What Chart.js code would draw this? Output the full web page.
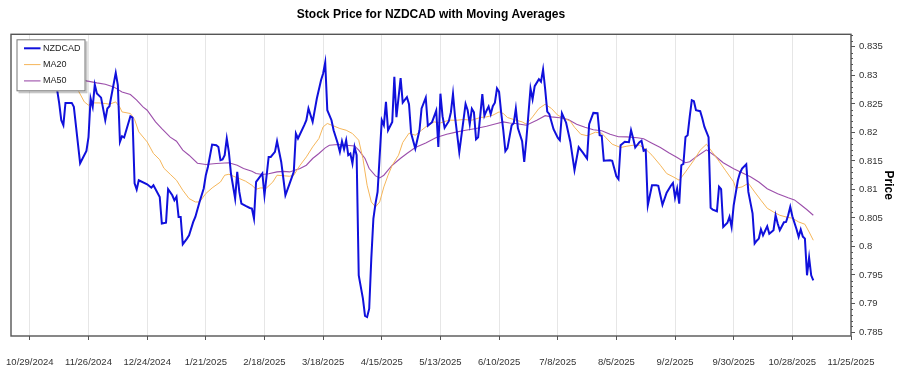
<!DOCTYPE html>
<html><head><meta charset="utf-8">
<script src="https://cdn.jsdelivr.net/npm/chart.js@4.4.1/dist/chart.umd.min.js"></script>
<style>html,body{margin:0;padding:0;background:#fff}</style>
</head><body>
<canvas id="c" width="900" height="375"></canvas>
<script>
const priceDates = [
"2024-11-07","2024-11-08","2024-11-11","2024-11-12","2024-11-13","2024-11-14","2024-11-15","2024-11-18","2024-11-19","2024-11-22",
"2024-11-25","2024-11-26","2024-11-27","2024-11-28","2024-11-29","2024-11-30","2024-12-02","2024-12-04","2024-12-05","2024-12-06",
"2024-12-09","2024-12-10","2024-12-11","2024-12-12","2024-12-13","2024-12-16","2024-12-17","2024-12-18","2024-12-19","2024-12-20",
"2024-12-24","2024-12-26","2024-12-27","2024-12-30","2024-12-31","2025-01-02","2025-01-03","2025-01-05","2025-01-06","2025-01-07",
"2025-01-08","2025-01-09","2025-01-10","2025-01-12","2025-01-13","2025-01-15","2025-01-16","2025-01-18","2025-01-20","2025-01-21",
"2025-01-22","2025-01-24","2025-01-26","2025-01-27","2025-01-28","2025-01-29","2025-01-30","2025-01-31","2025-02-01","2025-02-02",
"2025-02-04","2025-02-05","2025-02-06","2025-02-07","2025-02-09","2025-02-11","2025-02-12","2025-02-13","2025-02-14","2025-02-15",
"2025-02-17","2025-02-18","2025-02-20","2025-02-21","2025-02-23","2025-02-24","2025-02-26","2025-02-27","2025-02-28","2025-03-02",
"2025-03-04","2025-03-05","2025-03-06","2025-03-09","2025-03-10","2025-03-11","2025-03-13","2025-03-15","2025-03-17","2025-03-18",
"2025-03-19","2025-03-20","2025-03-22","2025-03-23","2025-03-25","2025-03-26","2025-03-27","2025-03-28","2025-03-29","2025-03-30",
"2025-03-31","2025-04-01","2025-04-02","2025-04-03","2025-04-04","2025-04-06","2025-04-07","2025-04-08","2025-04-09","2025-04-10",
"2025-04-11","2025-04-12","2025-04-13","2025-04-15","2025-04-16","2025-04-17","2025-04-18","2025-04-20","2025-04-21","2025-04-22",
"2025-04-24","2025-04-25","2025-04-27","2025-04-28","2025-04-29","2025-05-01","2025-05-03","2025-05-04","2025-05-06","2025-05-07",
"2025-05-09","2025-05-11","2025-05-12","2025-05-13","2025-05-14","2025-05-15","2025-05-17","2025-05-18","2025-05-19","2025-05-20",
"2025-05-22","2025-05-24","2025-05-25","2025-05-26","2025-05-27","2025-05-28","2025-05-29","2025-05-30","2025-05-31","2025-06-02",
"2025-06-03","2025-06-04","2025-06-05","2025-06-06","2025-06-07","2025-06-08","2025-06-09","2025-06-10","2025-06-11","2025-06-12",
"2025-06-13","2025-06-14","2025-06-16","2025-06-17","2025-06-18","2025-06-19","2025-06-21","2025-06-22","2025-06-23","2025-06-25",
"2025-06-26","2025-06-27","2025-06-29","2025-06-30","2025-07-01","2025-07-02","2025-07-03","2025-07-04","2025-07-06","2025-07-08",
"2025-07-09","2025-07-10","2025-07-12","2025-07-14","2025-07-16","2025-07-18","2025-07-20","2025-07-22","2025-07-23","2025-07-25",
"2025-07-27","2025-07-28","2025-07-29","2025-07-30","2025-08-02","2025-08-03","2025-08-05","2025-08-06","2025-08-07","2025-08-09",
"2025-08-11","2025-08-12","2025-08-13","2025-08-14","2025-08-16","2025-08-17","2025-08-18","2025-08-19","2025-08-20","2025-08-22",
"2025-08-24","2025-08-25","2025-08-27","2025-08-29","2025-08-31","2025-09-01","2025-09-02","2025-09-03","2025-09-04","2025-09-05",
"2025-09-06","2025-09-07","2025-09-08","2025-09-09","2025-09-10","2025-09-11","2025-09-12","2025-09-14","2025-09-15","2025-09-16",
"2025-09-18","2025-09-19","2025-09-20","2025-09-22","2025-09-23","2025-09-24","2025-09-25","2025-09-27","2025-09-28","2025-09-29",
"2025-09-30","2025-10-02","2025-10-03","2025-10-04","2025-10-06","2025-10-07","2025-10-09","2025-10-10","2025-10-11","2025-10-12",
"2025-10-13","2025-10-14","2025-10-16","2025-10-17","2025-10-19","2025-10-20","2025-10-21","2025-10-22","2025-10-24","2025-10-25",
"2025-10-26","2025-10-27","2025-10-28","2025-10-30","2025-10-31","2025-11-01","2025-11-02","2025-11-03","2025-11-04","2025-11-05",
"2025-11-06","2025-11-07"
];
const priceValues = [
0.8285,0.8295,0.8275,0.82512,0.82214,0.82126,0.82517,0.82517,0.82447,0.81459,
0.81675,0.81916,0.82594,0.82447,0.82837,0.82682,0.82609,0.82214,0.82419,0.82459,
0.83044,0.82828,0.81833,0.81933,0.81910,0.82284,0.82261,0.81108,0.80998,0.81161,
0.81091,0.81030,0.81072,0.80868,0.80401,0.80416,0.81003,0.80898,0.80810,0.80872,
0.80517,0.80517,0.80038,0.80138,0.80196,0.80430,0.80517,0.80780,0.81016,0.81249,
0.81394,0.81787,0.81775,0.81745,0.81512,0.81524,0.81600,0.81893,0.81658,0.81279,
0.80840,0.81307,0.80956,0.80752,0.80710,0.80675,0.80665,0.80489,0.81131,0.81179,
0.81279,0.80898,0.81570,0.81570,0.81658,0.81845,0.81482,0.81196,0.80898,0.81103,
0.81307,0.81980,0.81893,0.82126,0.82214,0.82419,0.82184,0.82594,0.82916,0.83033,
0.83226,0.82389,0.82214,0.82038,0.81805,0.81658,0.81845,0.81705,0.81863,0.81600,
0.81630,0.81454,0.81745,0.81600,0.79494,0.79086,0.78784,0.78763,0.78910,0.79787,
0.80489,0.80752,0.80956,0.82214,0.82126,0.82535,0.82038,0.82184,0.82973,0.82266,
0.82951,0.82521,0.82617,0.82494,0.81986,0.81717,0.82038,0.82419,0.82609,0.82117,
0.82179,0.82380,0.81745,0.82679,0.82284,0.82082,0.82196,0.82354,0.82675,0.82266,
0.81652,0.82214,0.82500,0.82389,0.82144,0.82416,0.82354,0.81880,0.81916,0.82670,
0.82293,0.82380,0.82454,0.82319,0.82459,0.82521,0.82770,0.82710,0.82345,0.82038,
0.81670,0.81723,0.82126,0.82161,0.82419,0.82073,0.81845,0.81482,0.81863,0.82770,
0.82582,0.82810,0.82933,0.82889,0.83103,0.82758,0.82363,0.82319,0.82056,0.81907,
0.81863,0.82337,0.82170,0.81837,0.81337,0.81740,0.81644,0.81542,0.82144,0.82342,
0.82337,0.81951,0.81942,0.81503,0.81512,0.81503,0.81231,0.81179,0.81775,0.81837,
0.81828,0.82038,0.81898,0.81735,0.81828,0.81854,0.81679,0.81696,0.80723,0.81073,
0.81073,0.81065,0.80731,0.80942,0.81065,0.81114,0.80854,0.81016,0.80752,0.81424,
0.81447,0.81921,0.81951,0.82272,0.82565,0.82547,0.82389,0.82372,0.82249,0.82100,
0.81916,0.80679,0.80644,0.80617,0.81047,0.81003,0.80342,0.80416,0.80521,0.80342,
0.80723,0.81161,0.81289,0.81366,0.81442,0.80956,0.80582,0.80051,0.80100,0.80138,
0.80301,0.80196,0.80354,0.80222,0.80284,0.80547,0.80401,0.80284,0.80424,0.80430,
0.80547,0.80693,0.80530,0.80301,0.80170,0.80296,0.80173,0.80138,0.79494,0.79805,
0.79494,0.79407
];
const ma20Dates = [
"2024-11-07","2024-11-14","2024-11-21","2024-11-24","2024-11-26","2024-11-28","2024-12-01","2024-12-04","2024-12-06","2024-12-09",
"2024-12-11","2024-12-12","2024-12-16","2024-12-18","2024-12-20","2024-12-24","2024-12-27","2024-12-30","2025-01-01","2025-01-04",
"2025-01-07","2025-01-10","2025-01-13","2025-01-16","2025-01-18","2025-01-21","2025-01-24","2025-01-28","2025-01-30","2025-02-01",
"2025-02-04","2025-02-06","2025-02-09","2025-02-12","2025-02-14","2025-02-16","2025-02-19","2025-02-22","2025-02-24","2025-02-27",
"2025-03-02","2025-03-04","2025-03-07","2025-03-10","2025-03-13","2025-03-16","2025-03-18","2025-03-20","2025-03-23","2025-03-26",
"2025-03-29","2025-04-01","2025-04-04","2025-04-06","2025-04-08","2025-04-10","2025-04-12","2025-04-14","2025-04-16","2025-04-18",
"2025-04-20","2025-04-23","2025-04-25","2025-04-28","2025-05-01","2025-05-04","2025-05-07","2025-05-10","2025-05-13","2025-05-17",
"2025-05-21","2025-05-24","2025-05-28","2025-06-01","2025-06-04","2025-06-07","2025-06-10","2025-06-12","2025-06-14","2025-06-17",
"2025-06-21","2025-06-23","2025-06-26","2025-06-29","2025-07-02","2025-07-05","2025-07-08","2025-07-11","2025-07-14","2025-07-16",
"2025-07-19","2025-07-22","2025-07-26","2025-07-29","2025-07-31","2025-08-03","2025-08-07","2025-08-10","2025-08-13","2025-08-16",
"2025-08-19","2025-08-22","2025-08-26","2025-08-29","2025-09-01","2025-09-04","2025-09-07","2025-09-11","2025-09-14","2025-09-17",
"2025-09-20","2025-09-23","2025-09-26","2025-09-30","2025-10-01","2025-10-04","2025-10-07","2025-10-10","2025-10-13","2025-10-16",
"2025-10-19","2025-10-22","2025-10-25","2025-10-28","2025-10-31","2025-11-03","2025-11-05","2025-11-07"
];
const ma20Values = [
0.8295,0.8290,0.82740,0.82535,0.82477,0.82517,0.82517,0.82507,0.82494,0.82535,
0.82437,0.82359,0.82331,0.82226,0.82009,0.81833,0.81630,0.81521,0.81372,0.81266,
0.81161,0.80986,0.80840,0.80780,0.80780,0.80928,0.81026,0.81131,0.81249,0.81266,
0.81219,0.81191,0.81144,0.81073,0.81003,0.81026,0.81026,0.81131,0.81249,0.81240,
0.81231,0.81249,0.81424,0.81570,0.81745,0.81893,0.82096,0.82156,0.82114,0.82068,
0.82038,0.81980,0.81863,0.81542,0.81073,0.80780,0.80693,0.80780,0.81044,0.81249,
0.81424,0.81600,0.81823,0.81986,0.81951,0.82038,0.82126,0.82184,0.82166,0.82214,
0.82214,0.82226,0.82214,0.82261,0.82272,0.82301,0.82359,0.82331,0.82261,0.82226,
0.82184,0.82144,0.82272,0.82419,0.82494,0.82419,0.82301,0.82249,0.82196,0.82091,
0.81968,0.81942,0.82003,0.81986,0.81907,0.81793,0.81735,0.81758,0.81775,0.81775,
0.81705,0.81600,0.81424,0.81279,0.81223,0.81161,0.81307,0.81512,0.81688,0.81793,
0.81644,0.81494,0.81337,0.81131,0.81021,0.81044,0.81109,0.80956,0.80811,0.80670,
0.80605,0.80547,0.80517,0.80494,0.80430,0.80389,0.80254,0.80109
];
const ma50Dates = [
"2024-11-07","2024-11-14","2024-11-20","2024-11-25","2024-11-30","2024-12-04","2024-12-08","2024-12-12","2024-12-16","2024-12-19",
"2024-12-22","2024-12-24","2024-12-28","2024-12-31","2025-01-04","2025-01-07","2025-01-10","2025-01-13","2025-01-17","2025-01-21",
"2025-01-26","2025-02-01","2025-02-05","2025-02-08","2025-02-12","2025-02-14","2025-02-17","2025-02-20","2025-02-24","2025-02-27",
"2025-03-02","2025-03-07","2025-03-10","2025-03-13","2025-03-16","2025-03-19","2025-03-21","2025-03-25","2025-03-29","2025-04-02",
"2025-04-04","2025-04-07","2025-04-09","2025-04-12","2025-04-14","2025-04-16","2025-04-18","2025-04-20","2025-04-24","2025-04-27",
"2025-05-01","2025-05-06","2025-05-11","2025-05-16","2025-05-21","2025-05-25","2025-05-30","2025-06-04","2025-06-09","2025-06-12",
"2025-06-15","2025-06-18","2025-06-23","2025-06-28","2025-07-02","2025-07-05","2025-07-09","2025-07-13","2025-07-17","2025-07-21",
"2025-07-25","2025-07-29","2025-08-02","2025-08-06","2025-08-10","2025-08-15","2025-08-18","2025-08-22","2025-08-26","2025-08-30",
"2025-09-03","2025-09-07","2025-09-09","2025-09-12","2025-09-17","2025-09-21","2025-09-25","2025-09-30","2025-10-04","2025-10-08",
"2025-10-12","2025-10-16","2025-10-21","2025-10-26","2025-10-29","2025-11-01","2025-11-04","2025-11-07"
];
const ma50Values = [
0.8310,0.8300,0.82959,0.82903,0.82868,0.82845,0.82798,0.82710,0.82665,0.82565,
0.82447,0.82389,0.82184,0.82065,0.81916,0.81845,0.81688,0.81600,0.81459,0.81437,
0.81454,0.81468,0.81424,0.81366,0.81319,0.81279,0.81261,0.81275,0.81307,0.81316,
0.81307,0.81366,0.81424,0.81542,0.81630,0.81728,0.81775,0.81787,0.81775,0.81763,
0.81688,0.81542,0.81366,0.81237,0.81202,0.81249,0.81337,0.81424,0.81547,0.81630,
0.81735,0.81816,0.81910,0.81968,0.82009,0.82038,0.82068,0.82108,0.82156,0.82184,
0.82166,0.82156,0.82126,0.82214,0.82293,0.82272,0.82258,0.82226,0.82144,0.82091,
0.82047,0.82030,0.81968,0.81924,0.81921,0.81907,0.81889,0.81810,0.81735,0.81644,
0.81559,0.81468,0.81486,0.81570,0.81693,0.81591,0.81468,0.81363,0.81293,0.81223,
0.81131,0.81012,0.80924,0.80854,0.80816,0.80731,0.80644,0.80547
];
const xTickDates = ["2024-10-29","2024-11-26","2024-12-24","2025-01-21","2025-02-18","2025-03-18","2025-04-15","2025-05-13",
"2025-06-10","2025-07-08","2025-08-05","2025-09-02","2025-09-30","2025-10-28","2025-11-25"];
const xTickLabels = ["10/29/2024","11/26/2024","12/24/2024","1/21/2025","2/18/2025","3/18/2025","4/15/2025","5/13/2025",
"6/10/2025","7/8/2025","8/5/2025","9/2/2025","9/30/2025","10/28/2025","11/25/2025"];
const yTickValues = [0.785,0.79,0.795,0.8,0.805,0.81,0.815,0.82,0.825,0.83,0.835];
const xRange = ["2024-10-20","2025-11-25"];
const yRange = [0.7843, 0.8372];
const seriesLabels = ["NZDCAD","MA20","MA50"];

const FONT = "'Liberation Sans', Arial, sans-serif";
function dayNum(s){const p=s.split('-').map(Number);return Date.UTC(p[0],p[1]-1,p[2])/86400000;}
function pts(dates, vals){return dates.map((d,i)=>({x:dayNum(d),y:vals[i]}));}
const xTickDays = xTickDates.map(dayNum);

const framePlugin = {
  id:'frame',
  afterDatasetsDraw(chart){
    const a=chart.chartArea, ctx=chart.ctx;
    ctx.save();
    ctx.strokeStyle='#555'; ctx.lineWidth=1.4;
    ctx.strokeRect(a.left, a.top, a.right-a.left, a.bottom-a.top);
    const ys = chart.scales.y;
    ctx.lineWidth=1; ctx.strokeStyle='#555';
    for(let k=785;k<=837;k++){
      if(k%5===0) continue;
      const py = Math.round(ys.getPixelForValue(k/1000))+0.5;
      ctx.beginPath(); ctx.moveTo(a.right, py); ctx.lineTo(a.right+2, py); ctx.stroke();
    }
    ctx.restore();
  }
};
const legendPlugin = {
  id:'legendBox',
  afterDatasetsDraw(chart){
    const ctx=chart.ctx, a=chart.chartArea;
    const x=a.left+5.5, y=a.top+5, w=69, h=52;
    ctx.save();
    ctx.fillStyle='rgba(0,0,0,0.22)'; ctx.fillRect(x+2,y+2,w,h);
    ctx.fillStyle='#fff'; ctx.fillRect(x,y,w,h);
    ctx.strokeStyle='#777'; ctx.lineWidth=1; ctx.strokeRect(x+0.5,y+0.5,w-1,h-1);
    chart.data.datasets.forEach((ds,i)=>{
      const ly = y + 9 + i*16.3;
      ctx.strokeStyle=ds.borderColor; ctx.lineWidth=ds.borderWidth;
      ctx.beginPath(); ctx.moveTo(x+7.5, ly); ctx.lineTo(x+24, ly); ctx.stroke();
      ctx.fillStyle='#222'; ctx.font='9px '+FONT; ctx.textBaseline='middle'; ctx.textAlign='left';
      ctx.fillText(ds.label, x+26.5, ly);
    });
    ctx.restore();
  }
};

new Chart(document.getElementById('c'), {
  type:'line',
  data:{datasets:[
    {label:seriesLabels[0], data:pts(priceDates,priceValues), borderColor:'#1010dc', borderWidth:2, pointRadius:0, tension:0},
    {label:seriesLabels[1], data:pts(ma20Dates,ma20Values), borderColor:'#f5b65a', borderWidth:1, pointRadius:0, tension:0},
    {label:seriesLabels[2], data:pts(ma50Dates,ma50Values), borderColor:'#9c4fab', borderWidth:1.1, pointRadius:0, tension:0}
  ]},
  options:{
    responsive:false, devicePixelRatio:1, animation:false,
    layout:{padding:{left:11,right:0,top:0,bottom:0}},
    plugins:{
      legend:{display:false}, tooltip:{enabled:false},
      title:{display:true, text:'Stock Price for NZDCAD with Moving Averages', fullSize:false, color:'#000',
        font:{family:FONT,size:12,weight:'bold'}, padding:{top:7.3,bottom:12.6}}
    },
    scales:{
      x:{type:'linear', min:dayNum(xRange[0]), max:dayNum(xRange[1]),
        afterBuildTicks(s){ s.ticks = xTickDays.map(v=>({value:v})); },
        afterFit(s){ s.height = 39; s.paddingLeft = 0; s.paddingRight = 0; },
        ticks:{autoSkip:false, maxRotation:0, minRotation:0, padding:16.3, color:'#333', font:{family:FONT,size:9.5},
          callback(v){ const i=xTickDays.indexOf(v); return i>=0?xTickLabels[i]:''; }},
        grid:{color:'#e6e6e6', lineWidth:1, tickColor:'#555', tickLength:4, drawTicks:true},
        border:{display:false}
      },
      y:{type:'linear', position:'right', min:yRange[0], max:yRange[1],
        afterBuildTicks(s){ s.ticks = yTickValues.map(v=>({value:v})); },
        afterFit(s){ s.width = 49; s.paddingTop = 0; s.paddingBottom = 0; },
        ticks:{padding:4, color:'#333', font:{family:FONT,size:9.5},
          callback(v){ return String(Number(v.toFixed(3))); }},
        grid:{drawOnChartArea:false, tickColor:'#555', tickLength:4},
        border:{display:false},
        title:{display:true, text:'Price', color:'#000', font:{family:FONT,size:12,weight:'bold'}, padding:{top:4.8,bottom:0}}
      }
    }
  },
  plugins:[framePlugin, legendPlugin]
});
</script>
</body></html>
